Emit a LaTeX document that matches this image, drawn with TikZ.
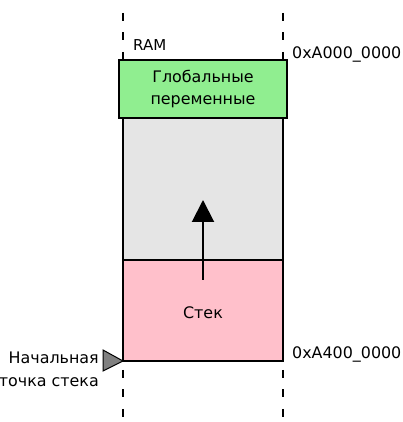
\documentclass[tikz,border=0pt]{standalone}
\usepackage{fontspec}
\setmainfont{DejaVu Sans}
\usetikzlibrary{arrows.meta}
\definecolor{globgreen}{HTML}{90EE90}
\definecolor{freegray}{HTML}{E5E5E5}
\definecolor{stackpink}{HTML}{FFC0CB}
\definecolor{markgray}{HTML}{808080}
\tikzset{
  membox/.style={draw=black, line width=2pt},
  memline/.style={line width=2pt, dash pattern=on 8pt off 11.5pt},
  lbl/.style={font=\fontsize{15.9}{22.5}\selectfont, inner sep=0pt},
  smalllbl/.style={font=\fontsize{15}{20}\selectfont, inner sep=0pt},
}
\begin{document}
\begin{tikzpicture}[x=1pt,y=1pt]
\useasboundingbox (0,0) rectangle (403,422);
% dashed column edges
\coordinate (tl1) at (123,409);
\coordinate (tl2) at (123,362);
\coordinate (tr1) at (283,409);
\coordinate (tr2) at (283,362);
\coordinate (bl1) at (123,52);
\coordinate (bl2) at (123,0);
\coordinate (br1) at (283,52);
\coordinate (br2) at (283,0);
\draw[memline] (tl1) -- (tl2);
\draw[memline] (tr1) -- (tr2);
\draw[memline] (bl1) -- (bl2);
\draw[memline] (br1) -- (br2);
% regions
\path[membox, fill=freegray] (123,304) rectangle (283,162);
\path[membox, fill=stackpink] (123,162) rectangle (283,61);
\path[membox, fill=globgreen] (119,362) rectangle (287,304);
\node[lbl, align=center] (glob) at (203,333) {Глобальные\\переменные};
\node[lbl] (stack) at (203,109) {Стек};
% growth arrow
\coordinate (arrs) at (203,142);
\coordinate (arre) at (203,222);
\draw[line width=2pt, -{Triangle[length=22pt,width=22pt]}] (arrs) -- (arre);
% labels
\node[smalllbl, anchor=west] (ram) at (133,377) {RAM};
\node[lbl, anchor=west] (atop) at (292,368) {0xA000\_0000};
\node[lbl, anchor=west] (abot) at (292,68) {0xA400\_0000};
\node[lbl, anchor=east, align=right] (start) at (99,52.5) {Начальная\\точка стека};
% start marker
\coordinate (m1) at (103,72);
\coordinate (m2) at (103,51);
\coordinate (m3) at (123,61);
\draw[line width=1pt, fill=markgray] (m1) -- (m3) -- (m2) -- cycle;
\end{tikzpicture}
\end{document}
